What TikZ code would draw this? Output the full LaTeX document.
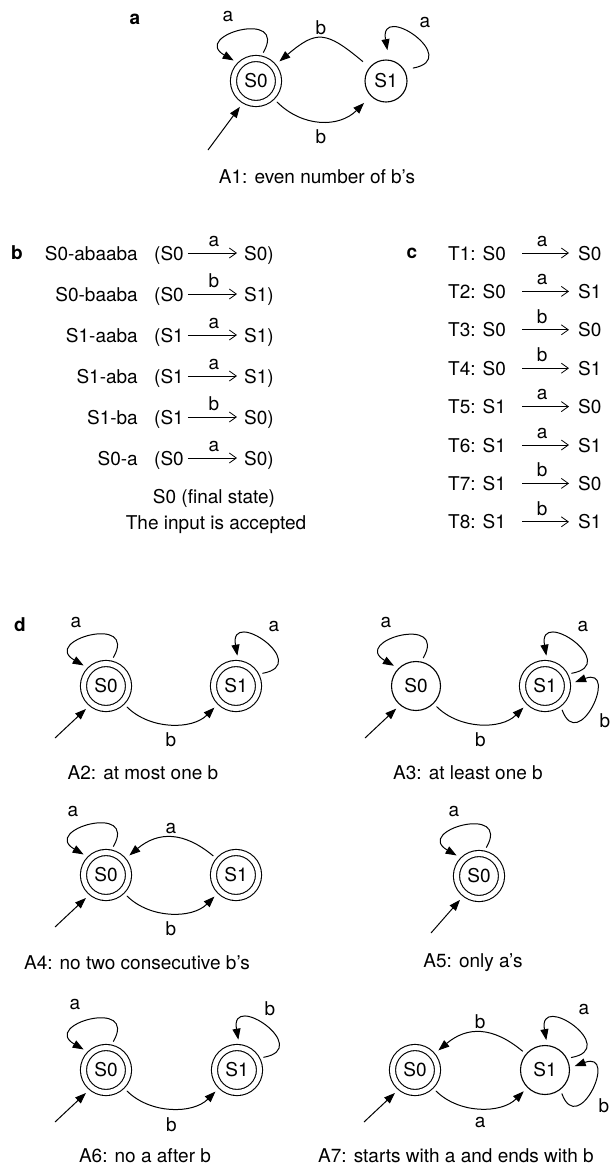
\documentclass[tikz,border=0pt]{standalone}
\usepackage{fontspec}
\setsansfont{TeX Gyre Heros}
\usepackage{tikz}
\usetikzlibrary{arrows.meta,positioning}
\tikzstyle{every picture}+=[font=\sffamily]

\begin{document}
\begin{tikzpicture}
		[x=1pt, y=1pt, inner sep=0pt, on grid,
		font=\sffamily\fontsize{19}{22}\selectfont,
		state/.style		= {draw, circle, line width=1.1pt, minimum size=42pt},
		widestate/.style	= {state, minimum size=49pt},
		final/.style		= {draw, circle, line width=1.1pt, double, double distance=5pt, minimum size=45pt, outer sep=3pt},
		trans/.style		= {line width=1pt, -{Triangle[length=11pt, width=8pt]}, shorten <=4pt, shorten >=5pt},
		entry/.style		= {line width=1pt, -{Triangle[length=11pt, width=8pt]}, shorten >=5pt},
		seqarrow/.style		= {line width=0.8pt, -{Straight Barb[length=7pt, width=10pt]}},
		seqtxt/.style		= {text depth=0pt},
		loopl/.style		= {out=60, in=150, distance=55pt},
		loopr/.style		= {out=10, in=100, distance=55pt},
		loopd/.style		= {out=-70, in=20, distance=52pt},
		lblb/.style			= {anchor=north, yshift=-9pt},
		lblt/.style			= {anchor=south, yshift=4pt},
		paneltag/.style		= {font=\sffamily\bfseries\fontsize{19}{22}\selectfont}]
		
		\useasboundingbox (0,0) rectangle (612,-1168);
		
		% panel a
		\node [paneltag]	at (135,-19)					(taga)	{a};
		\node [final]		at (256,-81)					(a0)	{S0};
		\node [state, outer sep=5pt] [right = 130pt of a0]	(a1)	{S1};
		\draw [trans] (a0.78) to[loopl] (a0.135);
		\draw [trans] (a1.28) to[loopr] (a1.85);
		\draw [trans] (a1.140) to[out=140, in=40, looseness=1.5] node[lblt] (a10l) {b} (a0.40);
		\draw [trans] (a0.-45) to[out=-45, in=-135, looseness=1.1] node[lblb] (a01l) {b} (a1.-135);
		\node [above left  = 64pt and 28pt of a0]			(a0l)	{a};
		\node [above right = 58pt and 39pt of a1]			(a1l)	{a};
		\coordinate (a0i) at (208,-150);
		\draw [entry] (a0i) -- (a0.-121);
		\node at (317,-177) (capa) {A1: even number of b’s};
		
		% panel b
		\node [paneltag]	at (17,-253)					(tagb)	{b};
		\foreach \i/\w/\p/\c/\q in {0/S0-abaaba/S0/a/S0, 1/S0-baaba/S0/b/S1, 2/S1-aaba/S1/a/S1,
				3/S1-aba/S1/a/S1, 4/S1-ba/S1/b/S0, 5/S0-a/S0/a/S0}
		{
			\node [seqtxt, anchor=east] at (138,-253-41*\i) (bw\i) {\w};
			\node [seqtxt, anchor=west] at (154,-253-41*\i) (bp\i) {(\p};
			\node [seqtxt, anchor=west] at (244,-253-41*\i) (bq\i) {\q)};
			\draw [seqarrow, shorten <=4pt, shorten >=7pt] (bp\i) -- (bq\i)
				node[midway, anchor=south, yshift=6pt] (bl\i) {\c};
		}
		\node at (214,-498) (bfin) {S0 (final state)};
		\node at (216,-525) (bacc) {The input is accepted};
		
		% panel c
		\node [paneltag]	at (412,-253)					(tagc)	{c};
		\foreach \i/\s/\c/\t in {1/S0/a/S0, 2/S0/a/S1, 3/S0/b/S0, 4/S0/b/S1,
				5/S1/a/S0, 6/S1/a/S1, 7/S1/b/S0, 8/S1/b/S1}
		{
			\node [seqtxt, anchor=west] at (448,-214.6-38.4*\i) (ct\i) {T\i: \s};
			\node [seqtxt, anchor=west] at (578,-214.6-38.4*\i) (cq\i) {\t};
			\draw [seqarrow, shorten <=16pt, shorten >=9pt] (ct\i) -- (cq\i)
				node[midway, anchor=south, yshift=6pt] (cl\i) {\c};
		}
		
		% panel d
		\node [paneltag]	at (20,-625)					(tagd)	{d};
		
		% A2
		\node [final]		at (106,-686)					(d20)	{S0};
		\node [final]		[right = 130pt of d20]			(d21)	{S1};
		\draw [trans] (d20.78) to[loopl] (d20.135);
		\draw [trans] (d21.28) to[loopr] (d21.85);
		\draw [trans] (d20.-45) to[out=-45, in=-135] node[lblb] (d2b) {b} (d21.-135);
		\node [above left  = 63pt and 30pt of d20]			(d20l)	{a};
		\node [above right = 59pt and 38pt of d21]			(d21l)	{a};
		\coordinate (d2i) at (55,-738);
		\draw [entry] (d2i) -- (d20.-130);
		\node at (143,-773) (d2cap) {A2: at most one b};
		
		% A3
		\node [widestate]	at (416,-686)					(d30)	{S0};
		\node [final]		[right = 129pt of d30]			(d31)	{S1};
		\draw [trans] (d30.78) to[loopl] (d30.135);
		\draw [trans] (d31.28) to[loopr] (d31.85);
		\draw [trans] (d31.-52) to[loopd] (d31.5);
		\draw [trans] (d30.-45) to[out=-45, in=-135] node[lblb] (d3b) {b} (d31.-135);
		\node [above left  = 63pt and 30pt of d30]			(d30l)	{a};
		\node [above right = 59pt and 38pt of d31]			(d31l)	{a};
		\node [below right = 35pt and 60pt of d31]			(d31m)	{b};
		\coordinate (d3i) at (365,-738);
		\draw [entry] (d3i) -- (d30.-130);
		\node at (468,-773) (d3cap) {A3: at least one b};
		
		% A4
		\node [final]		at (106,-875)					(d40)	{S0};
		\node [final]		[right = 130pt of d40]			(d41)	{S1};
		\draw [trans] (d40.78) to[loopl] (d40.135);
		\draw [trans] (d41.140) to[out=140, in=40, looseness=1.2] node[lblt] (d4a) {a} (d40.40);
		\draw [trans] (d40.-45) to[out=-45, in=-135] node[lblb] (d4b) {b} (d41.-135);
		\node [above left  = 63pt and 33pt of d40]			(d40l)	{a};
		\coordinate (d4i) at (55,-927);
		\draw [entry] (d4i) -- (d40.-130);
		\node at (137,-963) (d4cap) {A4: no two consecutive b’s};
		
		% A5
		\node [final]		at (479,-876)					(d50)	{S0};
		\draw [trans] (d50.78) to[loopl] (d50.135);
		\node [above left  = 64pt and 25pt of d50]			(d50l)	{a};
		\coordinate (d5i) at (431,-933);
		\draw [entry] (d5i) -- (d50.-128);
		\node at (473,-963) (d5cap) {A5: only a’s};
		
		% A6
		\node [final]		at (106,-1070)					(d60)	{S0};
		\node [final]		[right = 131pt of d60]			(d61)	{S1};
		\draw [trans] (d60.78) to[loopl] (d60.135);
		\draw [trans] (d61.28) to[loopr] (d61.85);
		\draw [trans] (d60.-45) to[out=-45, in=-135] node[lblb] (d6b) {b} (d61.-135);
		\node [above left  = 65pt and 31pt of d60]			(d60l)	{a};
		\node [above right = 61pt and 33pt of d61]			(d61l)	{b};
		\coordinate (d6i) at (55,-1122);
		\draw [entry] (d6i) -- (d60.-130);
		\node at (145,-1156) (d6cap) {A6: no a after b};
		
		% A7
		\node [final]		at (415,-1070)					(d70)	{S0};
		\node [widestate]	[right = 130pt of d70]			(d71)	{S1};
		\draw [trans] (d71.28) to[loopr] (d71.85);
		\draw [trans] (d71.-52) to[loopd] (d71.5);
		\draw [trans] (d71.140) to[out=140, in=40, looseness=1.2] node[lblt] (d7b) {b} (d70.40);
		\draw [trans] (d70.-45) to[out=-45, in=-135] node[lblb] (d7a) {a} (d71.-135);
		\node [above right = 60pt and 39pt of d71]			(d71l)	{a};
		\node [below right = 36pt and 59pt of d71]			(d71m)	{b};
		\coordinate (d7i) at (364,-1122);
		\draw [entry] (d7i) -- (d70.-130);
		\node at (456,-1156) (d7cap) {A7: starts with a and ends with b};
		
		\end{tikzpicture}
\end{document}
